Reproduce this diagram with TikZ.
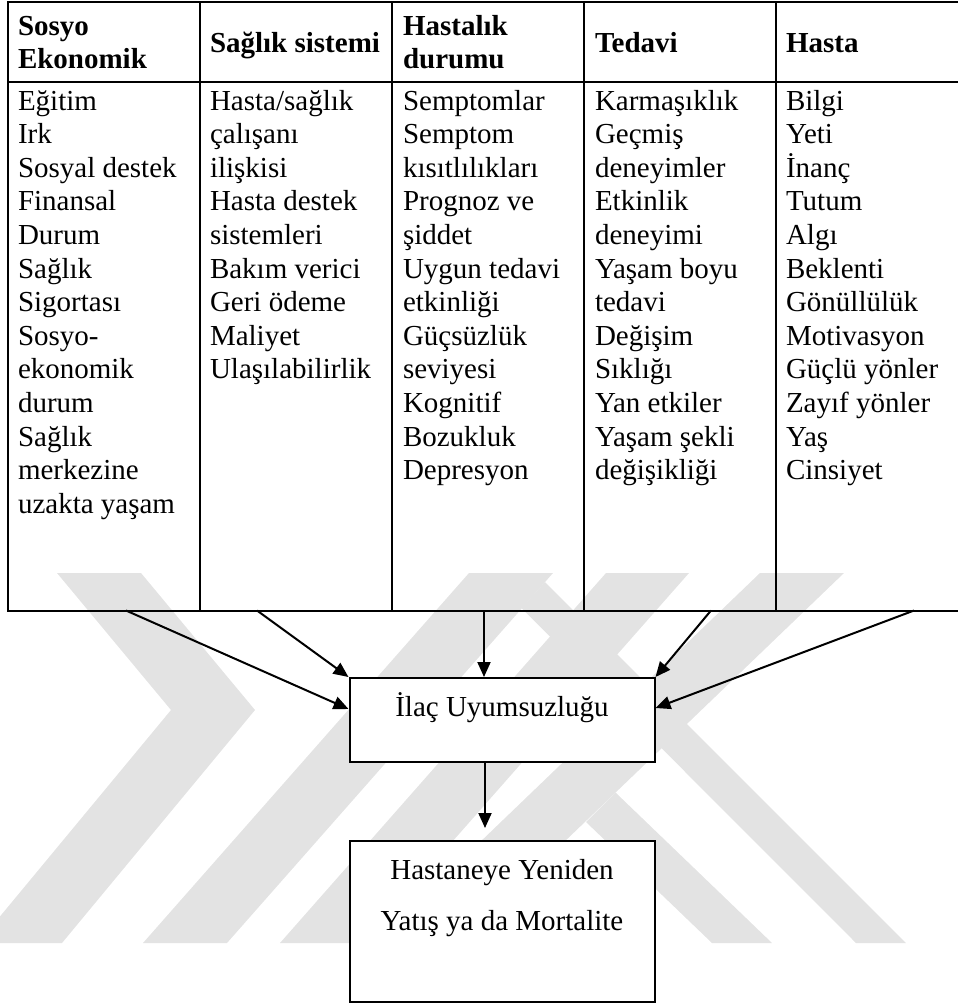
\documentclass[tikz,border=0pt]{standalone}
\usepackage{fontspec}
\setmainfont{Liberation Serif}
\usetikzlibrary{arrows.meta,calc,positioning}

\begin{document}
\begin{tikzpicture}[x=1pt, y=-1pt, line width=2pt,
    cell/.style = {anchor=base west, inner sep=0pt, font=\fontsize{29}{33.6}\selectfont},
    head/.style = {cell, font=\fontsize{29}{33.6}\selectfont\bfseries},
    box/.style = {draw, fill=white, inner sep=0pt, minimum width=305, anchor=north, font=\fontsize{29}{33.6}\selectfont},
    wm/.style = {fill=black!11, draw=none},
    >={Triangle[length=15pt,width=13pt]}]
  \useasboundingbox (0,0) rectangle (958,1005);
  \clip (0,0) rectangle (958,1005);

  % watermark in the background
  \fill[wm] (57,573) -- (141,573) -- (255,710) -- (62,943) -- (-22,943) -- (171,710) -- cycle;
  \fill[wm] (143,943) -- (227,943) -- (553,573) -- (469,573) -- cycle;
  \fill[wm] (280,943) -- (363,943) -- (689,573) -- (606,573) -- cycle;
  \fill[wm] (375,943) -- (459,943) -- (844,573) -- (760,573) -- cycle;
  \fill[wm] (521.5,608) -- (545,582) -- (906,943) -- (856,943) -- cycle;
  \fill[wm] (586,822) -- (615.6,792.6) -- (772,943) -- (712,943) -- cycle;

  % table
  \draw (8,2) rectangle (968,610.5);
  \draw (8,82) -- (968,82);
  \foreach \x in {200,392,584,776}
    \draw (\x,2) -- (\x,610.5);

  \node[head] (h1a) at (17,35) {Sosyo};
  \node[head] (h1b) at (17,68.3) {Ekonomik};
  \node[head] (h2) at (209,52.7) {Sağlık sistemi};
  \node[head] (h3a) at (402,35) {Hastalık};
  \node[head] (h3b) at (402,68.3) {durumu};
  \node[head] (h4) at (594,52.7) {Tedavi};
  \node[head] (h5) at (785,52.7) {Hasta};

  \foreach \t [count=\i] in {Eğitim, Irk, Sosyal destek, Finansal, Durum, Sağlık, Sigortası, Sosyo-, ekonomik, durum, Sağlık, merkezine, uzakta yaşam}
    \node[cell] (a\i) at (17,{110+33.6*(\i-1)}) {\t};
  \foreach \t [count=\i] in {Hasta/sağlık, çalışanı, ilişkisi, Hasta destek, sistemleri, Bakım verici, Geri ödeme, Maliyet, Ulaşılabilirlik}
    \node[cell] (b\i) at (209,{110+33.6*(\i-1)}) {\t};
  \foreach \t [count=\i] in {Semptomlar, Semptom, kısıtlılıkları, Prognoz ve, şiddet, Uygun tedavi, etkinliği, Güçsüzlük, seviyesi, Kognitif, Bozukluk, Depresyon}
    \node[cell] (c\i) at (402,{110+33.6*(\i-1)}) {\t};
  \foreach \t [count=\i] in {Karmaşıklık, Geçmiş, deneyimler, Etkinlik, deneyimi, Yaşam boyu, tedavi, Değişim, Sıklığı, Yan etkiler, Yaşam şekli, değişikliği}
    \node[cell] (d\i) at (594,{110+33.6*(\i-1)}) {\t};
  \foreach \t [count=\i] in {Bilgi, Yeti, İnanç, Tutum, Algı, Beklenti, Gönüllülük, Motivasyon, Güçlü yönler, Zayıf yönler, Yaş, Cinsiyet}
    \node[cell] (e\i) at (785,{110+33.6*(\i-1)}) {\t};

  % boxes
  \node[box, text height=38, text depth=46] (ilac) at (502,677) {İlaç Uyumsuzluğu};
  \node[box, text height=38.3, text depth=122.4] (yatis) at (502,840)
    {\parbox[t]{300pt}{\centering\fontsize{29}{51}\selectfont Hastaneye Yeniden\\Yatış ya da Mortalite}};

  \coordinate (s1) at (126,610.5);
  \coordinate (s2) at (257,610.5);
  \coordinate (s3) at (484,610.5);
  \coordinate (s4) at (711,610.5);
  \coordinate (s5) at (914,610.5);
  \coordinate (t6) at (485,828);

  \path[->]
  (s1) edge ([yshift=11pt]ilac.west)
  (s2) edge (ilac.north west)
  (s3) edge (ilac.north -| s3)
  (s4) edge (ilac.north east)
  (s5) edge ([yshift=12pt]ilac.east)
  (ilac.south -| t6) edge (t6);
\end{tikzpicture}
\end{document}
